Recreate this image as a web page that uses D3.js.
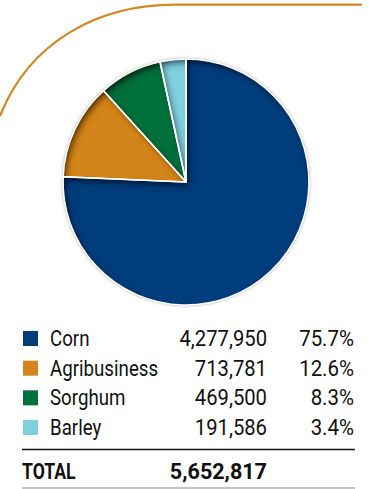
<!DOCTYPE html>
<html>
<head>
<meta charset="utf-8">
<script src="https://cdn.jsdelivr.net/npm/d3@7"></script>
<style>
  html, body { margin: 0; padding: 0; background: #fff; }
  svg text { font-family: Roboto, "Liberation Sans", sans-serif; }
</style>
</head>
<body>
<svg id="chart" width="369" height="489"></svg>
<script>
// data
const categories = ["Corn", "Agribusiness", "Sorghum", "Barley"];
const amounts = [4277950, 713781, 469500, 191586];
const shares = ["75.7%", "12.6%", "8.3%", "3.4%"];
const colors = ["#023d7b", "#d3841c", "#00703d", "#7fd0df"];
const totalLabel = "TOTAL";
const totalValue = 5652817;

const svg = d3.select("#chart");
const fmt = d3.format(",");

// filters: inner shadow for slices, soft halo for the pie
const defs = svg.append("defs");
const inner = defs.append("filter").attr("id", "inner")
  .attr("x", "-20%").attr("y", "-20%").attr("width", "140%").attr("height", "140%");
inner.append("feComponentTransfer").attr("in", "SourceAlpha").attr("result", "inv")
  .append("feFuncA").attr("type", "table").attr("tableValues", "1 0");
inner.append("feOffset").attr("in", "inv").attr("dx", 2.5).attr("dy", 3.5).attr("result", "off");
inner.append("feGaussianBlur").attr("in", "off").attr("stdDeviation", 3).attr("result", "blur");
inner.append("feFlood").attr("flood-color", "#000").attr("flood-opacity", 0.9).attr("result", "col");
inner.append("feComposite").attr("in", "col").attr("in2", "blur").attr("operator", "in").attr("result", "sh");
inner.append("feComposite").attr("in", "sh").attr("in2", "SourceAlpha").attr("operator", "in").attr("result", "sh2");
const m = inner.append("feMerge");
m.append("feMergeNode").attr("in", "SourceGraphic");
m.append("feMergeNode").attr("in", "sh2");

const halo = defs.append("filter").attr("id", "halo")
  .attr("x", "-10%").attr("y", "-10%").attr("width", "120%").attr("height", "120%");
halo.append("feGaussianBlur").attr("stdDeviation", 1.5);

// decorative rounded frame line
svg.append("path")
  .attr("d", "M0,116 C30,40 100,4.7 175,4.7 L362,4.7")
  .attr("fill", "none")
  .attr("stroke", "#d4861f")
  .attr("stroke-width", 2.2);

// pie
const cx = 186, cy = 182, r = 123;
const pieData = d3.pie().sort(null).value(d => d)(amounts);
const arc = d3.arc().innerRadius(0).outerRadius(r);

const g = svg.append("g").attr("transform", `translate(${cx},${cy})`);
g.append("circle").attr("r", r + 1).attr("fill", "#bbb").attr("filter", "url(#halo)");

g.selectAll("path.slice")
  .data(pieData)
  .enter().append("path")
  .attr("class", "slice")
  .attr("d", arc)
  .attr("fill", (d, i) => colors[i])
  .attr("filter", "url(#inner)");

g.selectAll("path.sep")
  .data(pieData)
  .enter().append("path")
  .attr("class", "sep")
  .attr("d", arc)
  .attr("fill", "none")
  .attr("stroke", "#fff")
  .attr("stroke-width", 1.6)
  .attr("stroke-linejoin", "round");

// legend table (text squeezed horizontally to mimic a condensed face)
const y = d3.scaleLinear().domain([0, 3]).range([346, 435]);
function label(sel, x, sx, anchor) {
  return sel.append("text")
    .attr("transform", `translate(${x},0) scale(${sx},1)`)
    .attr("text-anchor", anchor)
    .attr("font-size", 22)
    .attr("fill", "#111");
}

const rows = svg.selectAll("g.row")
  .data(categories)
  .enter().append("g")
  .attr("class", "row")
  .attr("transform", (d, i) => `translate(0,${y(i)})`);

rows.append("rect")
  .attr("x", 23).attr("y", -15)
  .attr("width", 15).attr("height", 15)
  .attr("fill", (d, i) => colors[i]);

label(rows, 50, 0.85, "start").text(d => d);
label(rows, 267, 0.92, "end").text((d, i) => fmt(amounts[i]));
label(rows, 354, 0.93, "end").text((d, i) => shares[i]);

svg.append("line")
  .attr("x1", 22).attr("x2", 355)
  .attr("y1", 449.5).attr("y2", 449.5)
  .attr("stroke", "#111").attr("stroke-width", 1.5);

const tot = svg.append("g").attr("transform", "translate(0,479)");
label(tot, 22, 0.8, "start").attr("font-weight", "bold").text(totalLabel);
label(tot, 267, 0.98, "end").attr("font-weight", "bold").text(fmt(totalValue));

svg.append("line")
  .attr("x1", 22).attr("x2", 355)
  .attr("y1", 488).attr("y2", 488)
  .attr("stroke", "#888").attr("stroke-width", 1.2);
</script>
</body>
</html>
